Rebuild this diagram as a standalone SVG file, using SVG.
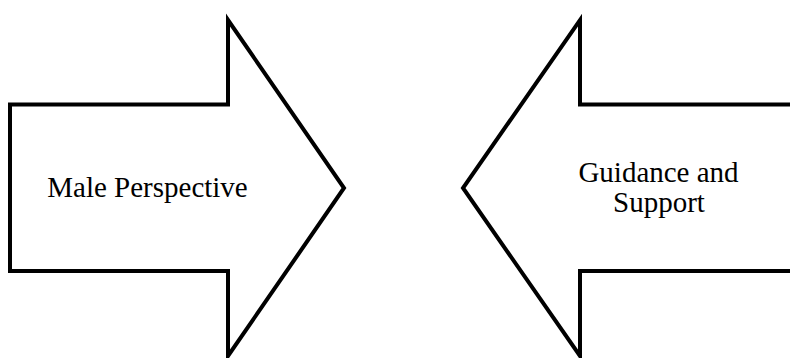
<svg xmlns="http://www.w3.org/2000/svg" width="790" height="358" viewBox="0 0 790 358">
<style>
.arrow{fill:#fff;stroke:#000;stroke-width:4;stroke-linejoin:miter;stroke-miterlimit:10}
.lbl{font-family:"Liberation Serif","Times New Roman",serif;font-size:29px;fill:#000;text-anchor:middle}
</style>
<rect width="790" height="358" fill="#fff"/>
<g id="male-perspective">
<path class="arrow" d="M10,104.5 H228 V20 L344,188 L228,356 V271 H10 Z"/>
<text class="lbl" x="147.5" y="197">Male Perspective</text>
</g>
<g id="guidance-support">
<path class="arrow" d="M800,104.5 H580 V20 L463,188 L580,356 V271 H800"/>
<text class="lbl" x="658.5" y="182">Guidance and</text>
<text class="lbl" x="659" y="212">Support</text>
</g>
<g id="connectors"/>
</svg>
